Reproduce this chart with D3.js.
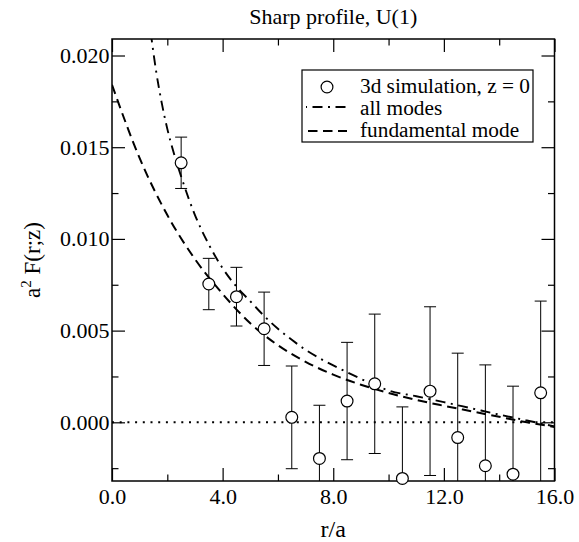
<!DOCTYPE html>
<html>
<head>
<meta charset="utf-8">
<script src="https://cdn.jsdelivr.net/npm/d3@7"></script>
<style>
  body { margin: 0; background: #fff; }
</style>
</head>
<body>
<div id="chart"></div>
<script>
// Values
const serif = "'Liberation Serif', 'DejaVu Serif', serif";

// 3d simulation points (z = 0) with symmetric error bars
const simR = [2.5, 3.5, 4.5, 5.5, 6.5, 7.5, 8.5, 9.5, 10.5, 11.5, 12.5, 13.5, 14.5, 15.5];
const simF = [0.01415, 0.00754, 0.00685, 0.0051, 0.00027, -0.00197, 0.00116, 0.0021,
              -0.00306, 0.0017, -0.00083, -0.00237, -0.00283, 0.00161];
const simErr = [0.0014, 0.0014, 0.0016, 0.002, 0.0028, 0.0029, 0.0032, 0.0038,
                0.0039, 0.0046, 0.0046, 0.0055, 0.0048, 0.005];

// "all modes" curve (dash-dot)
const allModesR = [1.3, 1.44, 1.6, 1.8, 2.0, 2.25, 2.5, 3.0, 3.5, 4.0, 4.5, 5.0, 5.5, 6.0, 6.5,
                   7.0, 7.5, 8.0, 8.5, 9.0, 9.5, 10.0, 11.0, 12.0, 13.0, 14.0, 15.0, 16.0];
const allModesF = [0.0225, 0.0208, 0.0191, 0.0174, 0.0160, 0.0146, 0.0134, 0.0113, 0.0097, 0.0084,
                   0.0074, 0.0066, 0.0058, 0.0051, 0.0045, 0.00395, 0.0035, 0.0031, 0.00273,
                   0.00237, 0.00203, 0.00174, 0.00142, 0.00110, 0.00076, 0.00042, 0.0001, -0.00022];

// "fundamental mode" curve (dashed)
const fundR = [0, 1, 2, 3, 4, 5, 6, 7, 8, 9, 10, 11, 12, 13, 14, 15, 16];
const fundF = [0.0184, 0.0144, 0.0113, 0.0089, 0.0070, 0.0054, 0.0042, 0.0033, 0.0026, 0.00205,
               0.0016, 0.00122, 0.0009, 0.0006, 0.0003, 0.0, -0.00025];

// axis ticks
const xMajor = [0, 4, 8, 12, 16];
const xMinor = [2, 6, 10, 14];
const yMajor = [0, 0.005, 0.010, 0.015, 0.020];
const yMinor = [-0.0025, 0.0025, 0.0075, 0.0125, 0.0175];

const legendItems = ["3d simulation, z = 0", "all modes", "fundamental mode"];

// Setup dimensions and SVG
const width = 579, height = 542;
const margin = { top: 39, right: 24.5, bottom: 61, left: 112 };

const svg = d3.select("#chart").append("svg")
    .attr("width", width)
    .attr("height", height)
    .attr("font-family", serif);

const x = d3.scaleLinear().domain([0, 16]).range([margin.left, width - margin.right]);
const y = d3.scaleLinear().domain([-0.0032, 0.0209]).range([height - margin.bottom, margin.top]);

const dashDot = "10,5.5,2,5.5";
const dashed = "9.5,5.5";

// clip for curves and error bars
svg.append("defs").append("clipPath").attr("id", "plot-clip")
    .append("rect")
    .attr("x", margin.left).attr("y", margin.top)
    .attr("width", x.range()[1] - x.range()[0])
    .attr("height", y.range()[0] - y.range()[1]);

// Axes with inward ticks on all four sides
function styleAxis(g) {
    g.attr("font-family", serif).attr("font-size", 22);
    g.select(".domain").remove();
    g.selectAll("line").attr("stroke", "#000").attr("stroke-width", 1.2);
    g.selectAll("text").attr("fill", "#000").attr("font-family", serif).attr("font-size", 22);
}

svg.append("g").attr("transform", `translate(0,${y.range()[0]})`)
    .call(d3.axisBottom(x).tickValues(xMajor).tickSize(-13).tickPadding(7).tickFormat(d3.format(".1f")))
    .call(styleAxis);
svg.append("g").attr("transform", `translate(0,${y.range()[0]})`)
    .call(d3.axisBottom(x).tickValues(xMinor).tickSize(-6.5).tickFormat(""))
    .call(styleAxis);
svg.append("g").attr("transform", `translate(0,${y.range()[1]})`)
    .call(d3.axisTop(x).tickValues(xMajor).tickSize(-13).tickFormat(""))
    .call(styleAxis);
svg.append("g").attr("transform", `translate(0,${y.range()[1]})`)
    .call(d3.axisTop(x).tickValues(xMinor).tickSize(-6.5).tickFormat(""))
    .call(styleAxis);

svg.append("g").attr("transform", `translate(${x.range()[0]},0)`)
    .call(d3.axisLeft(y).tickValues(yMajor).tickSize(-13).tickPadding(2.5).tickFormat(d3.format(".3f")))
    .call(styleAxis);
svg.append("g").attr("transform", `translate(${x.range()[0]},0)`)
    .call(d3.axisLeft(y).tickValues(yMinor).tickSize(-6.5).tickFormat(""))
    .call(styleAxis);
svg.append("g").attr("transform", `translate(${x.range()[1]},0)`)
    .call(d3.axisRight(y).tickValues(yMajor).tickSize(-13).tickFormat(""))
    .call(styleAxis);
svg.append("g").attr("transform", `translate(${x.range()[1]},0)`)
    .call(d3.axisRight(y).tickValues(yMinor).tickSize(-6.5).tickFormat(""))
    .call(styleAxis);

// frame
svg.append("rect")
    .attr("x", margin.left).attr("y", margin.top)
    .attr("width", x.range()[1] - x.range()[0])
    .attr("height", y.range()[0] - y.range()[1])
    .attr("fill", "none").attr("stroke", "#000").attr("stroke-width", 1.5);

const plot = svg.append("g").attr("clip-path", "url(#plot-clip)");

// zero line (dotted)
plot.append("line")
    .attr("x1", x(0)).attr("x2", x(16))
    .attr("y1", y(0)).attr("y2", y(0))
    .attr("stroke", "#000").attr("stroke-width", 2)
    .attr("stroke-dasharray", "2,5.7");

// curves
const line = d3.line().x(d => x(d[0])).y(d => y(d[1])).curve(d3.curveMonotoneX);

plot.append("path")
    .datum(d3.zip(allModesR, allModesF))
    .attr("d", line)
    .attr("fill", "none").attr("stroke", "#000").attr("stroke-width", 1.9)
    .attr("stroke-dasharray", dashDot);

plot.append("path")
    .datum(d3.zip(fundR, fundF))
    .attr("d", line)
    .attr("fill", "none").attr("stroke", "#000").attr("stroke-width", 2)
    .attr("stroke-dasharray", dashed);

// error bars
const sim = simR.map((r, i) => ({ r, f: simF[i], e: simErr[i] }));
const capW = 6;
const bars = plot.selectAll(".errbar").data(sim).enter().append("g").attr("class", "errbar")
    .attr("stroke", "#000").attr("stroke-width", 1);
bars.append("line")
    .attr("x1", d => x(d.r)).attr("x2", d => x(d.r))
    .attr("y1", d => y(d.f + d.e)).attr("y2", d => y(d.f - d.e));
bars.append("line")
    .attr("x1", d => x(d.r) - capW).attr("x2", d => x(d.r) + capW)
    .attr("y1", d => y(d.f + d.e)).attr("y2", d => y(d.f + d.e));
bars.append("line")
    .attr("x1", d => x(d.r) - capW).attr("x2", d => x(d.r) + capW)
    .attr("y1", d => y(d.f - d.e)).attr("y2", d => y(d.f - d.e));

// symbols (not clipped)
svg.selectAll(".sym").data(sim).enter().append("circle").attr("class", "sym")
    .attr("cx", d => x(d.r)).attr("cy", d => y(d.f)).attr("r", 5.9)
    .attr("fill", "#fff").attr("stroke", "#000").attr("stroke-width", 1.2);

// title and axis labels
svg.append("text")
    .attr("x", (x.range()[0] + x.range()[1]) / 2).attr("y", 24)
    .attr("text-anchor", "middle").attr("font-size", 22)
    .text("Sharp profile, U(1)");

svg.append("text")
    .attr("x", (x.range()[0] + x.range()[1]) / 2).attr("y", 537)
    .attr("text-anchor", "middle").attr("font-size", 24)
    .text("r/a");

const yLab = svg.append("text")
    .attr("transform", `translate(40,${(y.range()[0] + y.range()[1]) / 2}) rotate(-90)`)
    .attr("text-anchor", "middle").attr("font-size", 23);
yLab.append("tspan").text("a");
yLab.append("tspan").attr("dy", "-0.6em").attr("font-size", 15).text("2");
yLab.append("tspan").attr("dy", "0.4em").text(" F(r;z)");

// legend
const lg = svg.append("g").attr("transform", "translate(302,70)");
lg.append("rect").attr("width", 231).attr("height", 72)
    .attr("fill", "#fff").attr("stroke", "#000").attr("stroke-width", 1.2);
const symY = [17, 37, 61];
const textY = [22.5, 45, 67];
lg.append("circle").attr("cx", 25).attr("cy", symY[0]).attr("r", 5.9)
    .attr("fill", "#fff").attr("stroke", "#000").attr("stroke-width", 1.2);
lg.append("line").attr("x1", 4).attr("x2", 45).attr("y1", symY[1]).attr("y2", symY[1])
    .attr("stroke", "#000").attr("stroke-width", 1.9)
    .attr("stroke-dasharray", dashDot).attr("stroke-dashoffset", 16.5);
lg.append("line").attr("x1", 6).attr("x2", 45).attr("y1", symY[2]).attr("y2", symY[2])
    .attr("stroke", "#000").attr("stroke-width", 2).attr("stroke-dasharray", dashed);
lg.selectAll(".legend-text").data(legendItems).enter().append("text")
    .attr("class", "legend-text")
    .attr("x", 58).attr("y", (d, i) => textY[i])
    .attr("font-size", 21.3)
    .text(d => d);
</script>
</body>
</html>
